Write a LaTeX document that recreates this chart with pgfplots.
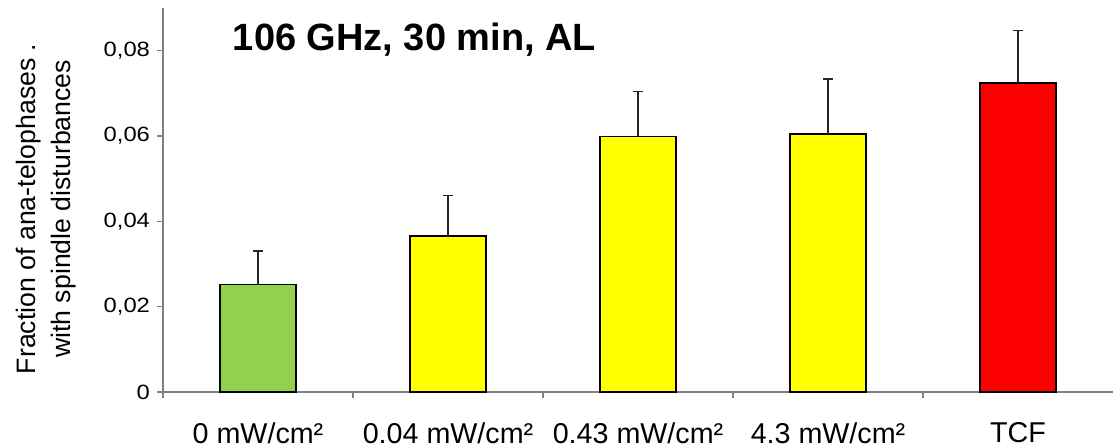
\documentclass[border=0pt]{standalone}
\usepackage{fontspec}
\setmainfont{Liberation Sans}
\newfontfamily\tickfont{Liberation Sans}[FakeStretch=1.15]
\usepackage{pgfplots}
\pgfplotsset{compat=1.18}
\definecolor{barGreen}{HTML}{92D050}
\definecolor{barYellow}{HTML}{FFFF00}
\definecolor{barRed}{HTML}{FF0000}
\definecolor{axisGray}{HTML}{808080}
\begin{document}
\begin{tikzpicture}
\path[use as bounding box] (-122.25pt,-40.5pt) rectangle (714pt,294pt);
\begin{axis}[
  at={(0,0)}, anchor=south west,
  scale only axis,
  width=712.5pt, height=288pt,
  xmin=-0.5, xmax=4.5, ymin=0, ymax=0.09,
  axis x line=bottom, axis y line=left,
  axis line style={-, draw=axisGray, line width=0.8pt},
  tick style={draw=axisGray, line width=0.8pt},
  tick align=outside,
  major tick length=4.5pt,
  ytick={0,0.02,0.04,0.06,0.08},
  yticklabels={0,{0,02},{0,04},{0,06},{0,08}},
  yticklabel style={font=\tickfont\fontsize{15.5}{18}\selectfont, xshift=-1.75pt},
  xtick={-0.5,0.5,1.5,2.5,3.5},
  xticklabels={},
  extra x ticks={0,1,2,3,4},
  extra x tick labels={0 mW/cm²,0.04 mW/cm²,0.43 mW/cm²,4.3 mW/cm²,TCF},
  extra x tick style={major tick length=0pt, tick style={draw=none},
     tick label style={font=\fontsize{21.5}{24}\selectfont, yshift=-19.5pt}},
  ylabel={Fraction of ana-telophases .\\with spindle disturbances},
  every axis y label/.style={at={(axis description cs:-0.123,0.477)}, rotate=90, anchor=center,
     align=center, font=\fontsize{20}{26}\selectfont},
  ybar, bar width=0.4,
  error bars/y dir=plus, error bars/y explicit,
  error bars/error bar style={line width=1.1pt, draw=black!85},
  error bars/error mark options={rotate=90, mark size=3.6pt, line width=1.1pt, draw=black!85},
  clip=false,
]
\addplot[fill=barGreen, draw=black, line width=1.2pt, bar shift=0pt]
  coordinates {(0,0.0252) +- (0,0.0079)};
\addplot[fill=barYellow, draw=black, line width=1.2pt, bar shift=0pt]
  coordinates {(1,0.0365) +- (0,0.0096) (2,0.0599) +- (0,0.0105) (3,0.0604) +- (0,0.0130)};
\addplot[fill=barRed, draw=black, line width=1.2pt, bar shift=0pt]
  coordinates {(4,0.0724) +- (0,0.0123)};
\node[anchor=base, font=\fontsize{28.5}{32}\selectfont\bfseries] at (axis cs:0.824,0.0801) {106 GHz, 30 min, AL};
\end{axis}
\end{tikzpicture}
\end{document}
